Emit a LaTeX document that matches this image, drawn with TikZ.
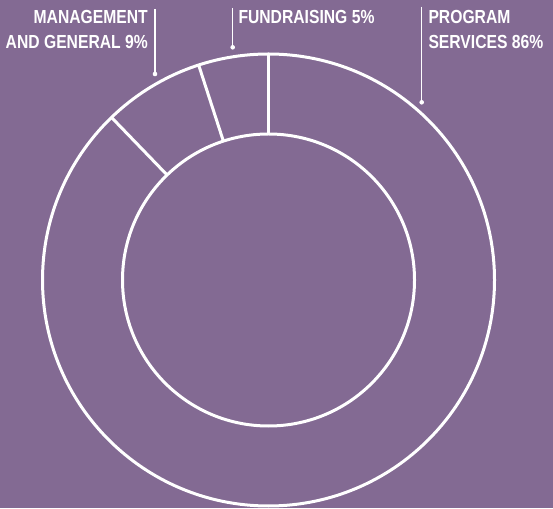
\documentclass[tikz,border=0pt]{standalone}
\usepackage{fontspec}
\setmainfont{Liberation Sans}[FakeStretch=0.83]
\usetikzlibrary{calc}
\definecolor{bgpurple}{RGB}{131,106,147}
\begin{document}
\begin{tikzpicture}[x=1pt,y=1pt,
  ring/.style={draw=white, line width=3pt},
  leader/.style={draw=white, line width=1.2pt},
  lbl/.style={text=white, font=\fontsize{18.9}{24.5}\selectfont\bfseries, inner sep=0pt},
  dotmark/.style={fill=white, circle, inner sep=0pt, minimum size=4.6pt}]
\fill[bgpurple] (0,0) rectangle (553,508);
\useasboundingbox (0,0) rectangle (553,508);
\coordinate (c) at (268.5,228);
\draw[ring] (c) circle[radius=226];
\draw[ring] (c) circle[radius=146];
\foreach \a in {90,108,134} \draw[ring] ($(c)+(\a:146)$) -- ($(c)+(\a:226)$);
% labels (base anchor = baseline of the last line)
\node[lbl, anchor=base east, align=right] (mg) at (148,459.5) {MANAGEMENT\\AND GENERAL 9\%};
\node[lbl, anchor=base west, align=left] (fr) at (238.3,484) {FUNDRAISING 5\%};
\node[lbl, anchor=base west, align=left] (ps) at (428.3,459.5) {PROGRAM\\SERVICES 86\%};
% leaders
\coordinate (mgtop) at (155,499);
\node[dotmark] (mgdot) at (155,434) {};
\draw[leader] (mgtop) -- (mgdot.center);
\coordinate (frtop) at (232.7,500);
\node[dotmark] (frdot) at (232.7,460.7) {};
\draw[leader] (frtop) -- (frdot.center);
\coordinate (pstop) at (421.7,501.3);
\node[dotmark] (psdot) at (421.7,405.7) {};
\draw[leader] (pstop) -- (psdot.center);
\end{tikzpicture}
\end{document}
